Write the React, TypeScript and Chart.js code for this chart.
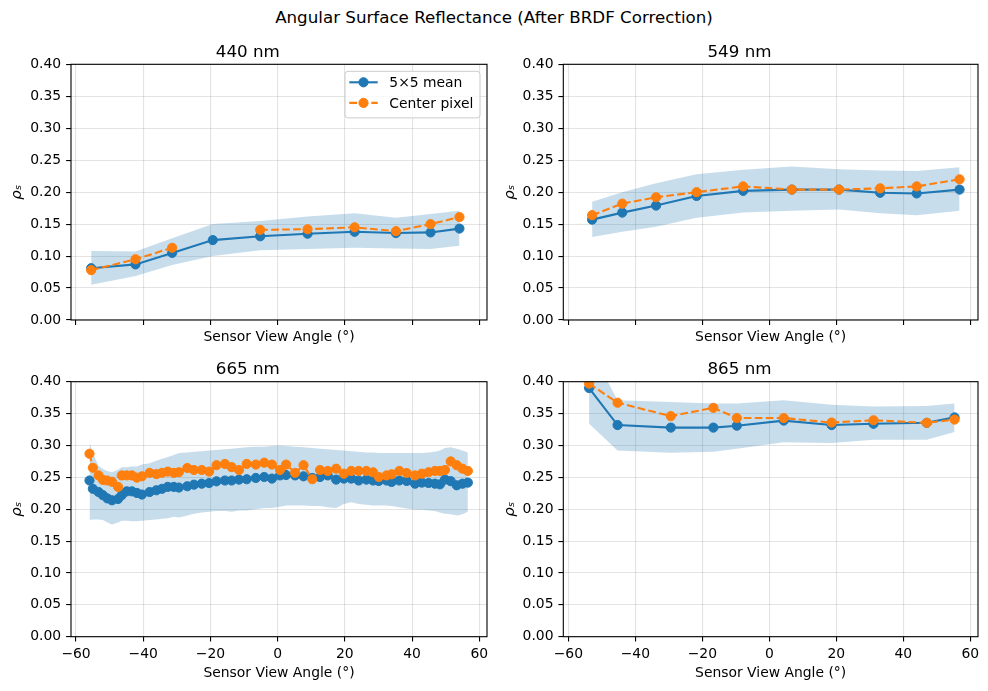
import React, { useEffect, useRef } from 'react';
import { Chart, registerables } from 'chart.js';

Chart.register(...registerables);

// ---------------- data ----------------
const angles440 = [-55.5, -42.3, -31.4, -19.3, -5.2, 8.9, 22.9, 35.2, 45.5, 54.1];
const mean440 = [0.081, 0.087, 0.105, 0.125, 0.131, 0.135, 0.138, 0.136, 0.137, 0.143];
const center440 = [0.078, 0.095, 0.113, null, 0.141, 0.142, 0.145, 0.139, 0.150, 0.161];
const hi440 = [0.108, 0.107, 0.128, 0.150, 0.155, 0.162, 0.167, 0.160, 0.166, 0.171];
const lo440 = [0.055, 0.069, 0.086, 0.100, 0.109, 0.111, 0.113, 0.112, 0.111, 0.116];

const angles549 = [-52.9, -43.9, -33.8, -21.7, -7.8, 6.7, 20.8, 33.1, 44.0, 56.8];
const mean549 = [0.157, 0.168, 0.179, 0.194, 0.202, 0.204, 0.204, 0.199, 0.198, 0.204];
const center549 = [0.164, 0.182, 0.192, 0.200, 0.209, 0.204, 0.204, 0.206, 0.209, 0.220];
const hi549 = [0.185, 0.200, 0.214, 0.228, 0.235, 0.240, 0.236, 0.234, 0.233, 0.239];
const lo549 = [0.130, 0.138, 0.146, 0.160, 0.168, 0.171, 0.173, 0.167, 0.164, 0.171];

const angles665 = [-56.0, -55.0, -53.3, -52.0, -50.7, -49.3, -47.5, -46.4, -44.9, -43.4, -41.9, -40.4, -38.1, -36.1, -34.4, -32.7, -30.9, -29.4, -26.9, -24.9, -22.6, -20.4, -18.2, -15.7, -13.7, -11.5, -9.2, -6.5, -4.0, -1.7, 0.7, 2.5, 5.2, 7.7, 10.3, 12.6, 14.9, 17.4, 19.7, 21.9, 24.1, 26.4, 28.4, 30.1, 32.4, 33.9, 36.2, 38.4, 40.9, 42.9, 44.9, 46.8, 48.3, 49.8, 51.5, 53.3, 55.0, 56.6];
const mean665 = [0.245, 0.232, 0.227, 0.222, 0.217, 0.214, 0.216, 0.222, 0.228, 0.228, 0.2255, 0.223, 0.227, 0.2297, 0.232, 0.235, 0.235, 0.234, 0.236, 0.2385, 0.240, 0.241, 0.2437, 0.245, 0.245, 0.2464, 0.247, 0.249, 0.2505, 0.248, 0.253, 0.2536, 0.253, 0.2516, 0.249, 0.2505, 0.253, 0.2464, 0.248, 0.248, 0.245, 0.2464, 0.245, 0.2443, 0.245, 0.2427, 0.245, 0.2443, 0.240, 0.2417, 0.2411, 0.240, 0.239, 0.2464, 0.244, 0.2375, 0.240, 0.2417];
const center665 = [0.287, 0.265, 0.253, 0.246, 0.245, 0.243, 0.235, 0.253, 0.253, 0.253, 0.2495, 0.2516, 0.257, 0.255, 0.257, 0.259, 0.257, 0.258, 0.2646, 0.2615, 0.2615, 0.259, 0.269, 0.271, 0.266, 0.2615, 0.271, 0.270, 0.273, 0.270, 0.2615, 0.270, 0.257, 0.269, 0.247, 0.2615, 0.260, 0.2635, 0.2557, 0.260, 0.260, 0.260, 0.258, 0.2505, 0.253, 0.2547, 0.260, 0.2568, 0.253, 0.2557, 0.258, 0.260, 0.260, 0.2615, 0.275, 0.269, 0.2635, 0.260];
const hi665 = [0.305, 0.288, 0.268, 0.263, 0.260, 0.258, 0.262, 0.266, 0.266, 0.267, 0.267, 0.270, 0.272, 0.276, 0.279, 0.282, 0.285, 0.288, 0.289, 0.290, 0.291, 0.292, 0.293, 0.294, 0.295, 0.296, 0.297, 0.298, 0.298, 0.299, 0.300, 0.299, 0.298, 0.297, 0.296, 0.295, 0.294, 0.293, 0.292, 0.291, 0.290, 0.289, 0.289, 0.288, 0.288, 0.288, 0.288, 0.288, 0.288, 0.288, 0.289, 0.290, 0.292, 0.296, 0.297, 0.295, 0.292, 0.289];
const lo665 = [0.183, 0.184, 0.184, 0.183, 0.179, 0.176, 0.179, 0.182, 0.182, 0.181, 0.181, 0.182, 0.183, 0.184, 0.185, 0.186, 0.188, 0.187, 0.190, 0.193, 0.195, 0.196, 0.197, 0.197, 0.196, 0.198, 0.198, 0.200, 0.202, 0.202, 0.204, 0.206, 0.206, 0.206, 0.205, 0.205, 0.203, 0.202, 0.208, 0.211, 0.208, 0.207, 0.206, 0.206, 0.206, 0.205, 0.203, 0.201, 0.199, 0.199, 0.198, 0.197, 0.195, 0.193, 0.192, 0.190, 0.192, 0.196];

const angles865 = [-53.8, -45.3, -29.4, -16.7, -9.7, 4.3, 18.6, 31.1, 47.0, 55.3];
const mean865 = [0.390, 0.332, 0.328, 0.328, 0.331, 0.339, 0.332, 0.334, 0.3355, 0.344];
const center865 = [0.397, 0.367, 0.346, 0.359, 0.343, 0.343, 0.336, 0.3395, 0.3355, 0.3406];
const hi865 = [0.455, 0.371, 0.368, 0.366, 0.366, 0.371, 0.364, 0.361, 0.362, 0.366];
const lo865 = [0.334, 0.292, 0.2885, 0.290, 0.295, 0.305, 0.304, 0.309, 0.309, 0.321];

const SUPTITLE = 'Angular Surface Reflectance (After BRDF Correction)';
const X_TITLE = 'Sensor View Angle (°)';
const Y_TITLE = 'ρₛ';
const MEAN_LABEL = '5×5 mean';
const CENTER_LABEL = 'Center pixel';
const X_MIN = -61.5;
const X_MAX = 62.3;
const Y_MIN = 0;
const Y_MAX = 0.4;

// ---------------- style ----------------
const FONT = "'DejaVu Sans', 'Liberation Sans', sans-serif";
const BLUE = '#1f77b4';
const ORANGE = '#ff7f0e';
const BAND = 'rgba(31,119,180,0.25)';
const TITLE_SIZE = 16.7;
const LABEL_SIZE = 13.9;
const Y_W = 62.35;
const MARKER_R = 4.6;

type Panel = {
  title: string;
  angles: number[];
  mean: (number | null)[];
  center: (number | null)[];
  lo: number[];
  hi: number[];
  l: number; t: number; r: number; b: number;
  titleY: number; axisTitleY: number;
  xLabels: boolean; legend: boolean;
};

const PANELS: Panel[] = [
  { title: '440 nm', angles: angles440, mean: mean440, center: center440, lo: lo440, hi: hi440,
    l: 71, t: 64.3, r: 487, b: 320, titleY: 52.5, axisTitleY: 337.8, xLabels: false, legend: true },
  { title: '549 nm', angles: angles549, mean: mean549, center: center549, lo: lo549, hi: hi549,
    l: 563.3, t: 64.3, r: 978, b: 320, titleY: 52.5, axisTitleY: 337.8, xLabels: false, legend: false },
  { title: '665 nm', angles: angles665, mean: mean665, center: center665, lo: lo665, hi: hi665,
    l: 71, t: 381.7, r: 487, b: 636.7, titleY: 369.5, axisTitleY: 673.5, xLabels: true, legend: false },
  { title: '865 nm', angles: angles865, mean: mean865, center: center865, lo: lo865, hi: hi865,
    l: 563.3, t: 381.7, r: 978, b: 636.7, titleY: 369.5, axisTitleY: 673.5, xLabels: true, legend: false },
];

const spinesPlugin = {
  id: 'spines',
  afterDraw(chart: any) {
    const { ctx, chartArea } = chart;
    ctx.save();
    ctx.strokeStyle = '#000';
    ctx.lineWidth = 1.1;
    ctx.strokeRect(chartArea.left, chartArea.top, chartArea.right - chartArea.left, chartArea.bottom - chartArea.top);
    ctx.restore();
  },
};

const innerLegendPlugin = {
  id: 'innerLegend',
  afterDraw(chart: any) {
    const { ctx, chartArea } = chart;
    const items = [chart.data.datasets[2], chart.data.datasets[3]];
    const w = 135;
    const h = 46.6;
    const x = chartArea.right - 7 - w;
    const y = chartArea.top + 7;
    ctx.save();
    ctx.beginPath();
    if (ctx.roundRect) ctx.roundRect(x, y, w, h, 3); else ctx.rect(x, y, w, h);
    ctx.fillStyle = 'rgba(255,255,255,0.8)';
    ctx.fill();
    ctx.strokeStyle = '#cccccc';
    ctx.lineWidth = 1;
    ctx.stroke();
    items.forEach((ds: any, i: number) => {
      const cy = y + 11 + i * 20.6;
      ctx.setLineDash(ds.borderDash || []);
      ctx.strokeStyle = ds.borderColor;
      ctx.lineWidth = ds.borderWidth;
      ctx.beginPath();
      ctx.moveTo(x + 4.3, cy);
      ctx.lineTo(x + 32.7, cy);
      ctx.stroke();
      ctx.setLineDash([]);
      ctx.beginPath();
      ctx.arc(x + 18.5, cy, ds.pointRadius, 0, Math.PI * 2);
      ctx.fillStyle = ds.backgroundColor;
      ctx.fill();
      ctx.lineWidth = 1;
      ctx.stroke();
      ctx.fillStyle = '#000';
      ctx.font = `${LABEL_SIZE}px ${FONT}`;
      ctx.textBaseline = 'middle';
      ctx.textAlign = 'left';
      ctx.fillText(ds.label, x + 44.3, cy + 1);
    });
    ctx.restore();
  },
};

const pts = (xs: number[], ys: (number | null)[]) => xs.map((x, i) => ({ x, y: ys[i] }));

function PanelChart({ p }: { p: Panel }) {
  const ref = useRef<HTMLCanvasElement>(null);
  const TITLE_LH = TITLE_SIZE * 1.2;
  const AX_LH = LABEL_SIZE * 1.2;
  const cl = Math.floor(p.l - Y_W - 2);
  const ct = Math.floor(p.titleY - TITLE_LH / 2 - 2);
  const cr = Math.ceil(p.r + 12);
  const cb = Math.ceil(p.axisTitleY + AX_LH / 2 + 2);
  const w = cr - cl;
  const h = cb - ct;

  useEffect(() => {
    if (!ref.current) return;
    const padLeft = p.l - Y_W - cl;
    const padTop = p.titleY - TITLE_LH / 2 - ct;
    const padRight = cr - p.r;
    const padBottom = cb - (p.axisTitleY + AX_LH / 2);
    const titlePadBottom = p.t - (p.titleY + TITLE_LH / 2);
    const xH = p.axisTitleY + AX_LH / 2 - p.b;

    const tickFont = { family: FONT, size: LABEL_SIZE };
    const chart = new Chart(ref.current, {
      type: 'line',
      data: {
        datasets: [
          { label: 'lo', data: pts(p.angles, p.lo), borderColor: 'rgba(0,0,0,0)', borderWidth: 0, pointRadius: 0, fill: false, order: 3, clip: 0 },
          { label: 'hi', data: pts(p.angles, p.hi), borderColor: 'rgba(0,0,0,0)', borderWidth: 0, pointRadius: 0, fill: '-1', backgroundColor: BAND, order: 2, clip: 0 },
          { label: MEAN_LABEL, data: pts(p.angles, p.mean), borderColor: BLUE, backgroundColor: BLUE, borderWidth: 2.1,
            pointRadius: MARKER_R, pointBorderWidth: 1, pointBackgroundColor: BLUE, pointBorderColor: BLUE, fill: false, order: 1, clip: 0 },
          { label: CENTER_LABEL, data: pts(p.angles, p.center), borderColor: ORANGE, backgroundColor: ORANGE, borderWidth: 2.1,
            borderDash: [7.7, 3.3], pointRadius: MARKER_R, pointBorderWidth: 1, pointBackgroundColor: ORANGE, pointBorderColor: ORANGE,
            fill: false, order: 0, clip: 0 },
        ] as any,
      },
      options: {
        responsive: false,
        animation: false,
        events: [],
        spanGaps: false,
        layout: { padding: { left: padLeft, top: padTop, right: padRight, bottom: padBottom } },
        plugins: {
          legend: { display: false },
          tooltip: { enabled: false },
          title: {
            display: true, text: p.title, color: '#000',
            font: { family: FONT, size: TITLE_SIZE, weight: 'normal' },
            padding: { top: 0, bottom: titlePadBottom },
          },
        },
        scales: {
          x: {
            type: 'linear', min: X_MIN, max: X_MAX,
            ticks: {
              stepSize: 20, includeBounds: false, display: p.xLabels, color: '#000', font: tickFont,
              padding: 4, maxRotation: 0, autoSkip: false,
              callback: (v: any) => (Number(v) < 0 ? '\u2212' + Math.abs(Number(v)) : String(v)),
            },
            grid: { color: 'rgba(176,176,176,0.35)', lineWidth: 1.1, drawTicks: true, tickLength: 4.9, tickColor: '#000', tickWidth: 1.1 },
            border: { display: false },
            title: { display: true, text: X_TITLE, color: '#000', font: tickFont, padding: 0 },
            afterFit: (s: any) => { s.height = xH; },
          },
          y: {
            type: 'linear', min: Y_MIN, max: Y_MAX,
            ticks: {
              stepSize: 0.05, color: '#000', font: tickFont, padding: 4.9,
              callback: (v: any) => Number(v).toFixed(2),
            },
            grid: { color: 'rgba(176,176,176,0.35)', lineWidth: 1.1, drawTicks: true, tickLength: 4.9, tickColor: '#000', tickWidth: 1.1 },
            border: { display: false },
            title: { display: true, text: Y_TITLE, color: '#000', font: { family: FONT, size: LABEL_SIZE + 1, style: 'italic' }, padding: 0 },
            afterFit: (s: any) => { s.width = Y_W; },
          },
        },
      } as any,
      plugins: p.legend ? [spinesPlugin, innerLegendPlugin] : [spinesPlugin],
    });
    return () => chart.destroy();
  }, []);

  return (
    <canvas
      ref={ref}
      width={w}
      height={h}
      style={{ position: 'absolute', left: cl, top: ct, width: w, height: h }}
    />
  );
}

export default function App() {
  return (
    <div style={{ position: 'absolute', left: 0, top: 0, width: 988, height: 691, background: '#fff', overflow: 'hidden' }}>
      <div
        style={{
          position: 'absolute', left: 0, top: 7.2, width: 988, height: 20, lineHeight: '20px',
          textAlign: 'center', fontFamily: FONT, fontSize: TITLE_SIZE, color: '#000',
        }}
      >
        {SUPTITLE}
      </div>
      {PANELS.map((p) => (
        <PanelChart key={p.title} p={p} />
      ))}
    </div>
  );
}
